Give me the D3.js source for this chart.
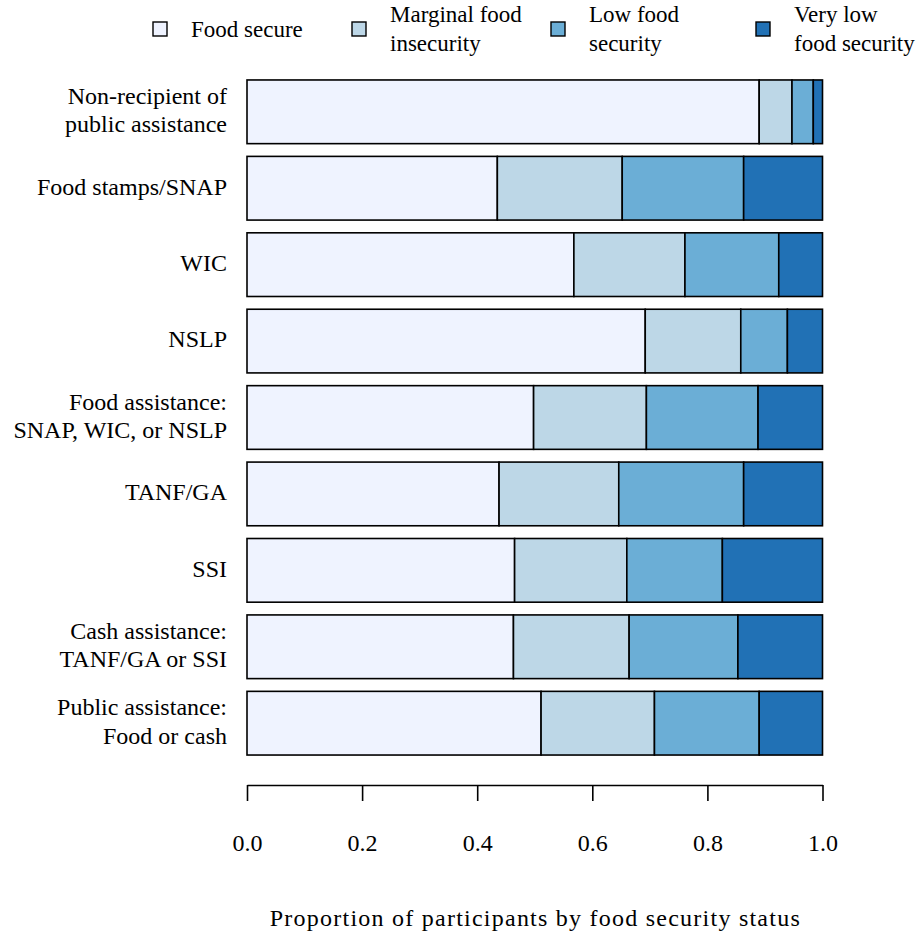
<!DOCTYPE html>
<html>
<head>
<meta charset="utf-8">
<script src="https://cdn.jsdelivr.net/npm/d3@7"></script>
<style>
  body { margin: 0; background: #fff; }
</style>
</head>
<body>
<div id="chart"></div>
<script>
  // groups, top to bottom (lines split with "|")
  var groups = [
    "Non-recipient of|public assistance",
    "Food stamps/SNAP",
    "WIC",
    "NSLP",
    "Food assistance:|SNAP, WIC, or NSLP",
    "TANF/GA",
    "SSI",
    "Cash assistance:|TANF/GA or SSI",
    "Public assistance:|Food or cash"
  ];
  var statuses = ["Food secure", "Marginal food|insecurity", "Low food|security", "Very low|food security"];
  var foodSecure   = [0.890, 0.435, 0.568, 0.692, 0.498, 0.438, 0.465, 0.463, 0.511];
  var marginal     = [0.057, 0.217, 0.193, 0.166, 0.196, 0.208, 0.195, 0.201, 0.197];
  var lowSecurity  = [0.037, 0.211, 0.163, 0.081, 0.194, 0.217, 0.166, 0.189, 0.182];
  var veryLow      = [0.016, 0.137, 0.076, 0.061, 0.112, 0.137, 0.174, 0.147, 0.110];
  var xTicks = [0, 0.2, 0.4, 0.6, 0.8, 1.0];
  var colors = ["#eff3ff", "#bdd7e7", "#6baed6", "#2171b5"];

  var W = 917, H = 937;
  var fontSize = 24;

  // pick the first serif face that is really installed
  function pickFont(list) {
    var ctx = document.createElement("canvas").getContext("2d");
    var probe = "Proportion of participants 0123";
    ctx.font = "60px monospace";
    var base = ctx.measureText(probe).width;
    for (var i = 0; i < list.length; i++) {
      ctx.font = "60px '" + list[i] + "', monospace";
      if (Math.abs(ctx.measureText(probe).width - base) > 0.5) return "'" + list[i] + "'";
    }
    return "serif";
  }
  var serif = pickFont(["Liberation Serif", "Times New Roman", "Times", "Tinos", "DejaVu Serif", "Noto Serif"]) + ", serif";

  var svg = d3.select("#chart").append("svg")
    .attr("width", W)
    .attr("height", H)
    .style("font-family", serif);

  var x = d3.scaleLinear().domain([0, 1]).range([247, 822.5]);
  var y = d3.scaleBand().domain(groups)
    .range([73.6, 761.4])
    .paddingInner(0.1667)
    .paddingOuter(0.0833);

  var rows = groups.map(function(g, i) {
    return {group: g, values: [foodSecure[i], marginal[i], lowSecurity[i], veryLow[i]]};
  });
  var stack = d3.stack().keys([0, 1, 2, 3]).value(function(d, k) { return d.values[k]; });
  var series = stack(rows);

  // Bars
  svg.append("g").selectAll("g")
    .data(series)
    .enter().append("g")
    .attr("fill", function(d, i) { return colors[i]; })
    .selectAll("rect")
    .data(function(d) { return d; })
    .enter().append("rect")
    .attr("x", function(d) { return x(d[0]); })
    .attr("width", function(d) { return x(d[1]) - x(d[0]); })
    .attr("y", function(d) { return y(d.data.group); })
    .attr("height", y.bandwidth())
    .attr("stroke", "#000")
    .attr("stroke-width", 1.6);

  // Group labels
  var lineH = 28.5;
  svg.append("g").selectAll("text")
    .data(groups)
    .enter().append("text")
    .attr("text-anchor", "end")
    .style("font-size", fontSize + "px")
    .style("font-family", serif)
    .each(function(g) {
      var lines = g.split("|");
      var cy = y(g) + y.bandwidth() / 2;
      var t = d3.select(this);
      lines.forEach(function(l, j) {
        t.append("tspan")
          .attr("x", 227)
          .attr("y", cy + (j - (lines.length - 1) / 2) * lineH - 1.5)
          .attr("dy", "0.33em")
          .text(l);
      });
    });

  // X axis
  var axis = d3.axisBottom(x)
    .tickValues(xTicks)
    .tickFormat(d3.format(".1f"))
    .tickSize(16)
    .tickPadding(33)
    .tickSizeOuter(0);
  var ax = svg.append("g")
    .attr("transform", "translate(0,785)")
    .call(axis);
  ax.select(".domain").attr("stroke", "#000").attr("stroke-width", 1.6);
  ax.selectAll(".tick line").attr("stroke", "#000").attr("stroke-width", 1.6);
  ax.selectAll(".tick text")
    .attr("fill", "#000")
    .style("font-size", fontSize + "px")
    .style("font-family", serif);

  svg.append("text")
    .attr("x", x(0.5))
    .attr("y", 926)
    .attr("text-anchor", "middle")
    .attr("textLength", 530)
    .attr("lengthAdjust", "spacing")
    .style("font-size", fontSize + "px")
    .style("font-family", serif)
    .text("Proportion of participants by food security status");

  // Legend
  var legendX = [153, 352, 551, 756];
  var legend = svg.append("g").selectAll("g")
    .data(statuses)
    .enter().append("g")
    .attr("transform", function(d, i) { return "translate(" + legendX[i] + ",22)"; });
  legend.append("rect")
    .attr("width", 14)
    .attr("height", 14)
    .attr("fill", function(d, i) { return colors[i]; })
    .attr("stroke", "#000")
    .attr("stroke-width", 1.4);
  legend.append("text")
    .style("font-size", "23px")
    .style("font-family", serif)
    .each(function(s) {
      var lines = s.split("|");
      var t = d3.select(this);
      lines.forEach(function(l, j) {
        t.append("tspan")
          .attr("x", 38)
          .attr("y", 7 + (j - (lines.length - 1) / 2) * lineH)
          .attr("dy", "0.33em")
          .text(l);
      });
    });
</script>
</body>
</html>
